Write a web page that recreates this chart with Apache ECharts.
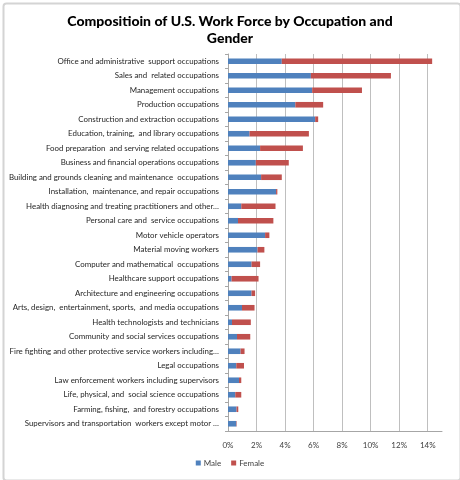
<!DOCTYPE html>
<html>
<head>
<meta charset="utf-8">
<script src="https://cdn.jsdelivr.net/npm/echarts@6/dist/echarts.min.js"></script>
<style>
html,body{margin:0;padding:0;background:#fff;}
#c{width:460px;height:480px;}
</style>
</head>
<body>
<div id="c"></div>
<script>
const titleText = 'Compositioin of U.S. Work Force by Occupation and\nGender';
const categories = [
  'Office and administrative  support occupations',
  'Sales and  related occupations',
  'Management occupations',
  'Production occupations',
  'Construction and extraction occupations',
  'Education, training,  and library occupations',
  'Food preparation  and serving related occupations',
  'Business and financial operations occupations',
  'Building and grounds cleaning and maintenance  occupations',
  'Installation,  maintenance, and repair occupations',
  'Health diagnosing and treating practitioners and other…',
  'Personal care and  service occupations',
  'Motor vehicle operators',
  'Material moving workers',
  'Computer and mathematical  occupations',
  'Healthcare support occupations',
  'Architecture and engineering occupations',
  'Arts, design,  entertainment, sports,  and media occupations',
  'Health technologists and technicians',
  'Community and social services occupations',
  'Fire fighting and other protective service workers including…',
  'Legal occupations',
  'Law enforcement workers including supervisors',
  'Life, physical, and  social science occupations',
  'Farming, fishing,  and forestry occupations',
  'Supervisors and transportation  workers except motor …'
];
const maleValues = [3.77, 5.81, 5.90, 4.72, 6.11, 1.51, 2.25, 1.95, 2.32, 3.37, 0.93, 0.70, 2.60, 2.07, 1.65, 0.25, 1.65, 0.98, 0.28, 0.63, 0.88, 0.58, 0.77, 0.51, 0.60, 0.58];
const femaleValues = [10.54, 5.61, 3.49, 1.95, 0.21, 4.16, 3.00, 2.31, 1.45, 0.09, 2.40, 2.48, 0.30, 0.48, 0.60, 1.89, 0.25, 0.88, 1.32, 0.93, 0.28, 0.54, 0.16, 0.42, 0.12, 0.03];
const seriesNames = ['Male', 'Female'];
const xTickStep = 2;
const xMax = 15;

const chart = echarts.init(document.getElementById('c'), null, {renderer: 'canvas'});
const font = 'Lato';
chart.setOption({
  animation: false,
  backgroundColor: '#fff',
  graphic: [{
    type: 'rect',
    left: 1, top: 1,
    shape: {width: 457, height: 477, r: 3},
    style: {fill: 'none', stroke: '#d4d4d4', lineWidth: 2},
    silent: true, z: 100
  }],
  title: {
    text: titleText,
    left: 'center',
    top: 8,
    textStyle: {fontFamily: font, fontSize: 14, fontWeight: 900, color: '#000', lineHeight: 17}
  },
  legend: {
    data: seriesNames,
    bottom: 8,
    left: 'center',
    itemWidth: 5, itemHeight: 5, itemGap: 10,
    icon: 'rect',
    textStyle: {fontFamily: font, fontSize: 8, color: '#404040', padding: [0,0,0,-2]}
  },
  grid: {left: 228, right: 18, top: 54, bottom: 49, containLabel: false},
  xAxis: {
    type: 'value',
    min: 0, max: xMax, interval: xTickStep,
    axisLine: {show: true, lineStyle: {color: '#a6a6a6', width: 1}},
    axisTick: {show: false},
    axisLabel: {formatter: '{value}%', showMaxLabel: false, fontFamily: font, fontSize: 8, color: '#404040', margin: 10},
    splitLine: {show: true, showMaxLine: false, lineStyle: {color: '#bfbfbf', width: 1}}
  },
  yAxis: {
    type: 'category',
    data: categories,
    inverse: true,
    axisLine: {show: true, lineStyle: {color: '#a6a6a6', width: 1}},
    axisTick: {show: true, length: 3, lineStyle: {color: '#a6a6a6'}},
    axisLabel: {fontFamily: font, fontSize: 7.9, color: '#262626', margin: 9, interval: 0}
  },
  series: [
    {name: seriesNames[0], type: 'bar', stack: 'g', data: maleValues, barWidth: 5.6, itemStyle: {color: '#4F81BD'}},
    {name: seriesNames[1], type: 'bar', stack: 'g', data: femaleValues, barWidth: 5.6, itemStyle: {color: '#C0504D'}}
  ]
});
</script>
</body>
</html>
